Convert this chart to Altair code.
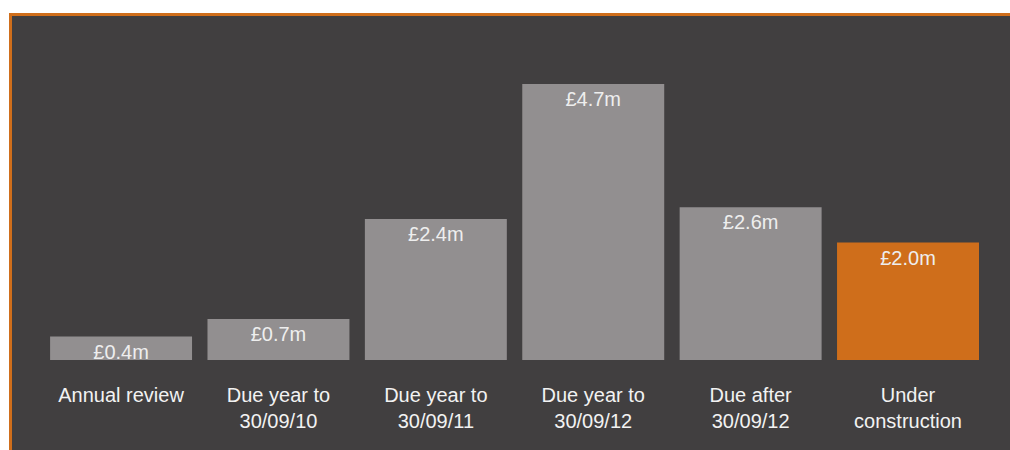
import altair as alt
import pandas as pd

categories = ["Annual review", "Due year to\n30/09/10", "Due year to\n30/09/11",
              "Due year to\n30/09/12", "Due after\n30/09/12", "Under\nconstruction"]
values = [0.4, 0.7, 2.4, 4.7, 2.6, 2.0]
labels = ["£0.4m", "£0.7m", "£2.4m", "£4.7m", "£2.6m", "£2.0m"]
kinds = ["other", "other", "other", "other", "other", "construction"]

df = pd.DataFrame({"cat": categories, "value": values, "label": labels, "kind": kinds,
                   "order": list(range(len(categories)))})

W, H = 1001, 437
BG = "#413f40"
ORANGE = "#cf6e1b"
GREY = "#928f90"
FONT = "Liberation Sans"

x = alt.X("cat:N", sort=categories, axis=None,
          scale=alt.Scale(paddingInner=0.098, paddingOuter=0.229, align=0.57))
yscale = alt.Scale(domain=[-1.533, 5.911], nice=False, zero=False)

bars = alt.Chart(df).mark_bar().encode(
    x=x,
    y=alt.Y("value:Q", scale=yscale, axis=None),
    y2=alt.datum(0),
    color=alt.Color("kind:N", scale=alt.Scale(domain=["other", "construction"], range=[GREY, ORANGE]), legend=None),
)

vals = alt.Chart(df).mark_text(font=FONT, fontSize=20, color="#eeeeee", baseline="middle", dy=16).encode(
    x=x,
    y=alt.Y("value:Q", scale=yscale),
    text="label:N",
)

cats = alt.Chart(df).mark_text(font=FONT, fontSize=20, color="#f2f2f2", baseline="top",
                               lineBreak="\n", lineHeight=26).encode(
    x=x,
    y=alt.value(373),
    text="cat:N",
)

top_rule = alt.Chart(df).mark_rule(color=ORANGE, strokeWidth=3).encode(
    x=alt.value(0), x2=alt.value(W), y=alt.value(1.5))
left_rule = alt.Chart(df).mark_rule(color=ORANGE, strokeWidth=3).encode(
    x=alt.value(1.5), y=alt.value(0), y2=alt.value(H))

chart = alt.layer(bars, vals, cats, top_rule, left_rule).properties(
    width=W, height=H,
    autosize=alt.AutoSizeParams(type="none"),
    padding={"left": 9, "top": 13, "right": 0, "bottom": 0},
    background="white",
).configure_view(fill=BG, stroke=None)

chart.save("out.html", embed_options={"renderer": "svg", "actions": False})
